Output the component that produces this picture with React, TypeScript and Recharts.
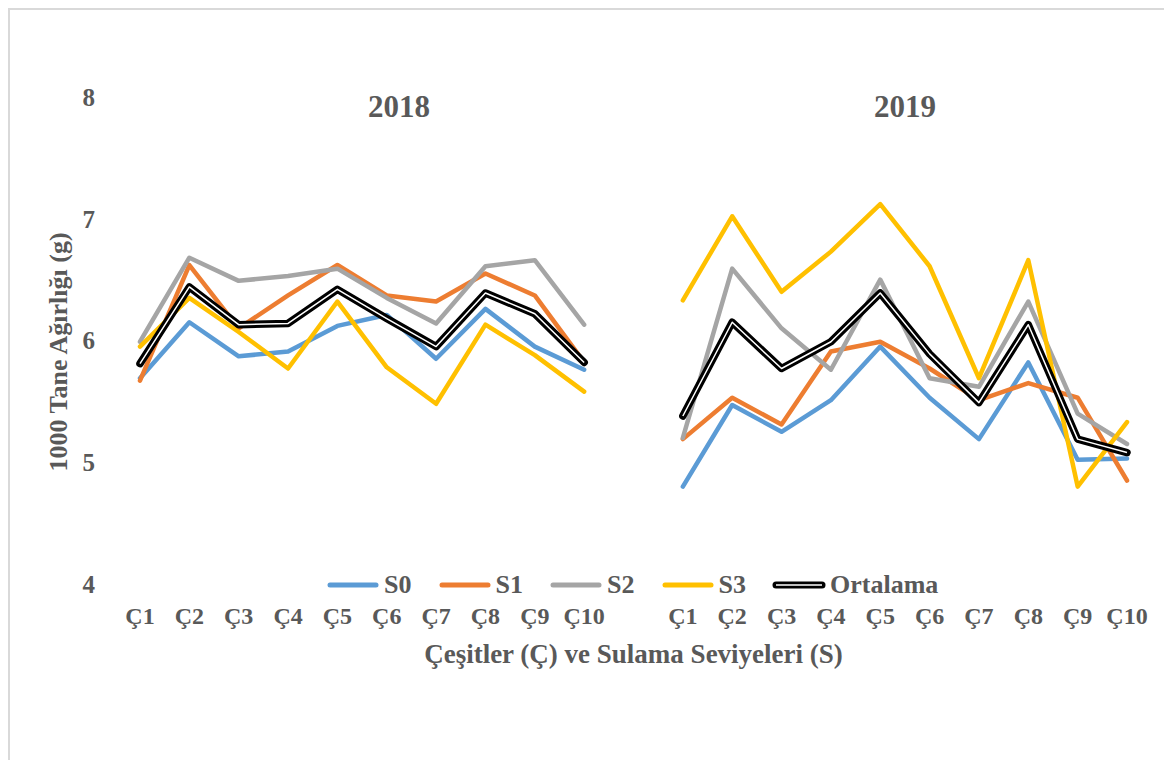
import React from 'react';
import { LineChart, Line, XAxis, YAxis, Label } from 'recharts';

// Çeşit adları (her yıl için aynı)
const cesitler = ['Ç1', 'Ç2', 'Ç3', 'Ç4', 'Ç5', 'Ç6', 'Ç7', 'Ç8', 'Ç9', 'Ç10'];

// 2018 değerleri
const s0_2018 = [5.69, 6.15, 5.87, 5.91, 6.12, 6.21, 5.85, 6.26, 5.95, 5.76];
const s1_2018 = [5.67, 6.62, 6.10, 6.37, 6.62, 6.37, 6.32, 6.55, 6.37, 5.82];
const s2_2018 = [5.99, 6.68, 6.49, 6.53, 6.59, 6.35, 6.14, 6.61, 6.66, 6.13];
const s3_2018 = [5.95, 6.35, 6.07, 5.77, 6.32, 5.78, 5.48, 6.13, 5.88, 5.58];
const ort_2018 = [5.81, 6.44, 6.13, 6.14, 6.42, 6.18, 5.95, 6.39, 6.22, 5.82];

// 2019 değerleri
const s0_2019 = [4.80, 5.47, 5.25, 5.51, 5.95, 5.53, 5.19, 5.82, 5.02, 5.03];
const s1_2019 = [5.19, 5.53, 5.31, 5.91, 5.99, 5.77, 5.51, 5.65, 5.53, 4.85];
const s2_2019 = [5.20, 6.59, 6.10, 5.76, 6.50, 5.69, 5.62, 6.32, 5.40, 5.15];
const s3_2019 = [6.33, 7.02, 6.40, 6.73, 7.12, 6.61, 5.69, 6.66, 4.80, 5.33];
const ort_2019 = [5.38, 6.15, 5.77, 5.99, 6.39, 5.89, 5.49, 6.13, 5.19, 5.08];

const yTicks = [4, 5, 6, 7, 8];

const FONT = "'Liberation Serif', 'Times New Roman', serif";
const TEXT = '#595959';

const seriler = [
  { key: 's0', name: 'S0', color: '#5B9BD5' },
  { key: 's1', name: 'S1', color: '#ED7D31' },
  { key: 's2', name: 'S2', color: '#A5A5A5' },
  { key: 's3', name: 'S3', color: '#FFC000' },
];

// iki yıl arasında boş bir kategori bırak, çizgiler kopsun
const data = [
  ...cesitler.map((c, i) => ({
    name: c, s0: s0_2018[i], s1: s1_2018[i], s2: s2_2018[i], s3: s3_2018[i], ort: ort_2018[i],
  })),
  { name: ' ', s0: null, s1: null, s2: null, s3: null, ort: null },
  ...cesitler.map((c, i) => ({
    name: c, s0: s0_2019[i], s1: s1_2019[i], s2: s2_2019[i], s3: s3_2019[i], ort: ort_2019[i],
  })),
];

const LegendSwatch = ({ color, double }: { color: string; double?: boolean }) => (
  <svg width={54} height={10} style={{ marginRight: 4 }}>
    <line x1={4} y1={5} x2={50} y2={5} stroke={color} strokeWidth={double ? 7 : 5} strokeLinecap="round" />
    {double && <line x1={4} y1={5} x2={50} y2={5} stroke="#fff" strokeWidth={1.5} />}
  </svg>
);

export default function App() {
  return (
    <div
      style={{
        position: 'relative',
        width: 1154,
        height: 760,
        borderTop: '2px solid #d9d9d9',
        borderLeft: '2px solid #d9d9d9',
        background: '#fff',
        fontFamily: FONT,
      }}
    >
      <style>{'html, body { overflow: hidden; }'}</style>
      <LineChart width={1154} height={738} data={data} margin={{ top: 87, right: 37, bottom: 109, left: 0 }}>
        <XAxis
          dataKey="name"
          axisLine={false}
          tickLine={false}
          tickSize={0}
          tickMargin={23}
          height={55}
          interval={0}
          tick={{ fill: TEXT, fontSize: 24, fontWeight: 700, fontFamily: FONT }}
        >
          <Label
            value="Çeşitler (Ç) ve Sulama Seviyeleri (S)"
            position="bottom"
            offset={5}
            style={{ fill: TEXT, fontSize: 27, fontWeight: 700, fontFamily: FONT }}
          />
        </XAxis>
        <YAxis
          width={130}
          domain={[4, 8]}
          ticks={yTicks}
          axisLine={false}
          tickLine={false}
          tickSize={0}
          tickMargin={45}
          tick={{ fill: TEXT, fontSize: 25, fontWeight: 700, fontFamily: FONT }}
        >
          <Label
            content={() => (
              <text
                x={48}
                y={342}
                transform="rotate(-90 48 342)"
                textAnchor="middle"
                dominantBaseline="central"
                fill={TEXT}
                fontSize={26}
                fontWeight={700}
                fontFamily={FONT}
              >
                1000 Tane Ağırlığı (g)
              </text>
            )}
          />
        </YAxis>
        {seriler.map((s) => (
          <Line
            key={s.key}
            type="linear"
            dataKey={s.key}
            stroke={s.color}
            strokeWidth={4.5}
            strokeLinejoin="round"
            strokeLinecap="round"
            dot={false}
            activeDot={false}
            isAnimationActive={false}
          />
        ))}
        {/* Ortalama: siyah çift çizgi */}
        <Line
          type="linear"
          dataKey="ort"
          stroke="#000"
          strokeWidth={7.5}
          strokeLinejoin="round"
          strokeLinecap="round"
          dot={false}
          activeDot={false}
          isAnimationActive={false}
        />
        <Line
          type="linear"
          dataKey="ort"
          stroke="#fff"
          strokeWidth={1.5}
          strokeLinejoin="round"
          dot={false}
          activeDot={false}
          isAnimationActive={false}
        />
      </LineChart>

      {/* yıl başlıkları */}
      <div style={{ position: 'absolute', left: 289, top: 82, width: 200, textAlign: 'center', fontSize: 31, lineHeight: '30px', fontWeight: 700, color: TEXT }}>
        2018
      </div>
      <div style={{ position: 'absolute', left: 795, top: 82, width: 200, textAlign: 'center', fontSize: 31, lineHeight: '30px', fontWeight: 700, color: TEXT }}>
        2019
      </div>

      {/* gösterge */}
      <div style={{ position: 'absolute', left: 316, top: 560, height: 30, display: 'flex', alignItems: 'center' }}>
        {seriler.map((s) => (
          <div key={s.key} style={{ width: 111.5, display: 'flex', alignItems: 'center', fontSize: 26, lineHeight: '30px', fontWeight: 700, color: TEXT }}>
            <LegendSwatch color={s.color} />
            {s.name}
          </div>
        ))}
        <div style={{ display: 'flex', alignItems: 'center', fontSize: 26, lineHeight: '30px', fontWeight: 700, color: TEXT }}>
          <LegendSwatch color="#000" double />
          Ortalama
        </div>
      </div>
    </div>
  );
}
